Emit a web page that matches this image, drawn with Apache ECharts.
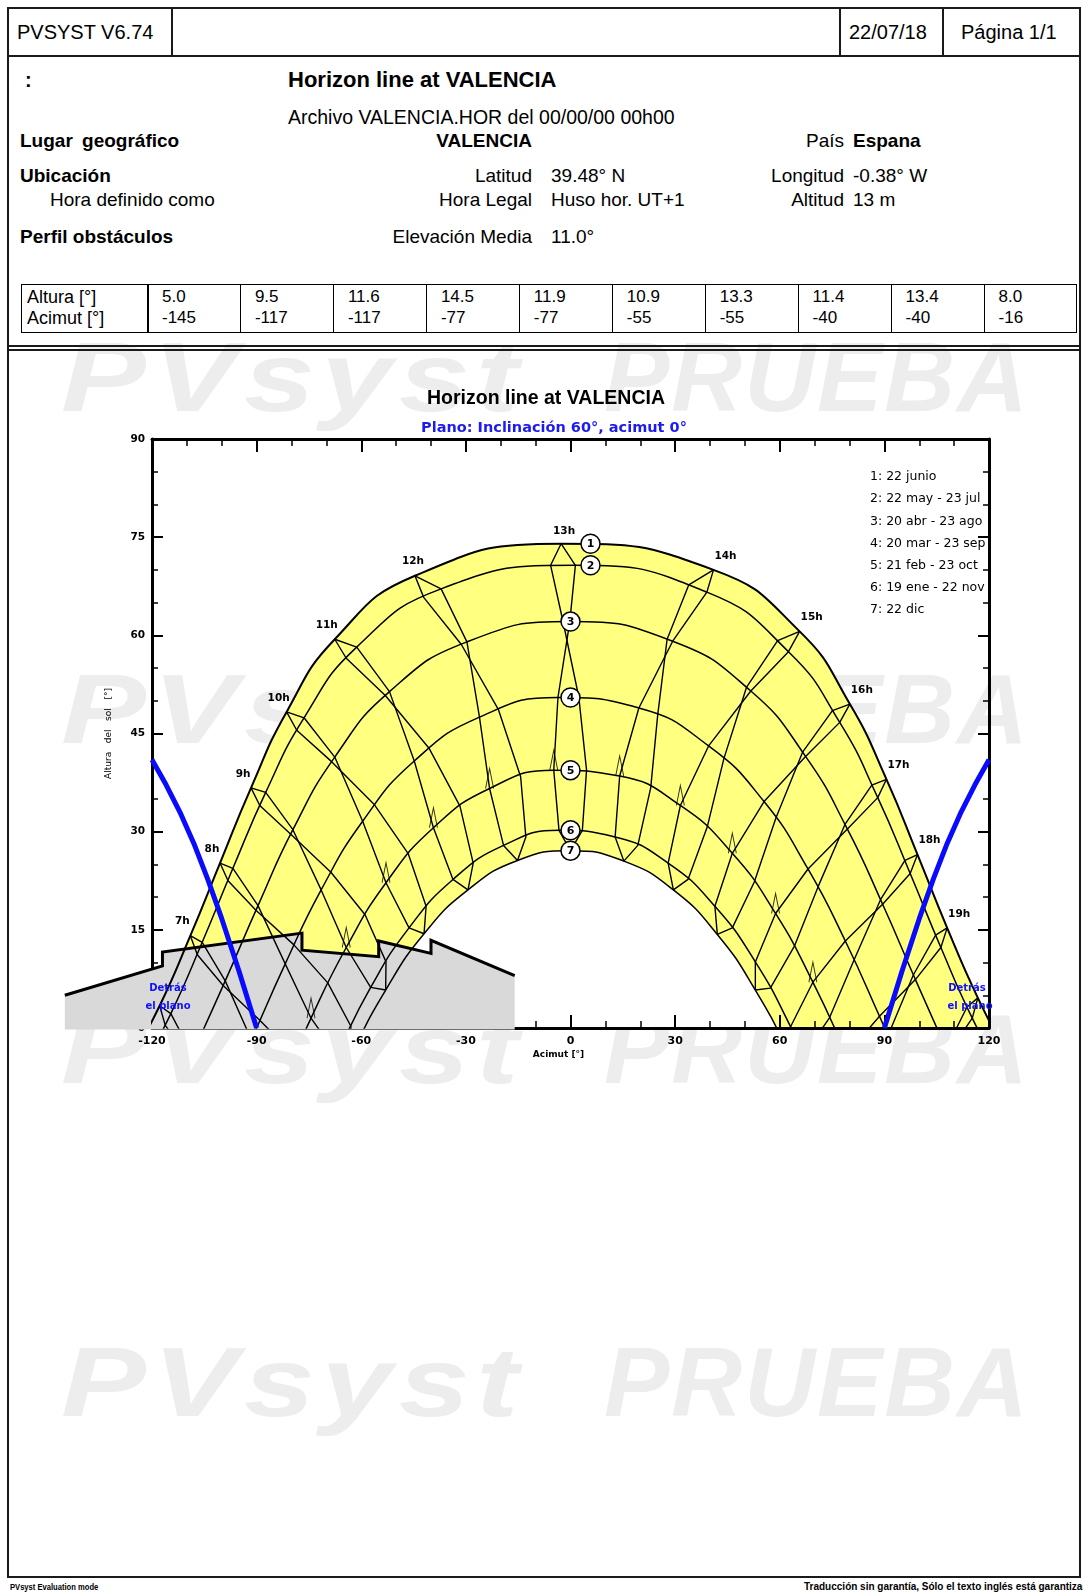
<!DOCTYPE html>
<html>
<head>
<meta charset="utf-8">
<title>Horizon line at VALENCIA</title>
<script src="https://cdn.jsdelivr.net/npm/echarts/dist/echarts.min.js"></script>
<style>
html, body { margin: 0; padding: 0; background: #fff; }
#page { position: relative; width: 1083px; height: 1596px; overflow: hidden;
        font-family: "Liberation Sans", Arial, sans-serif; color: #000; }
.wm { position: absolute; font: italic bold 98px "Liberation Sans", Arial, sans-serif;
      color: #ededed; white-space: nowrap; line-height: 1; transform-origin: 0 0; }
.wm1 { left: 61px; letter-spacing: 5px; transform: scaleX(1.3); }
.wm2 { left: 604px; letter-spacing: 2px; }
.t { position: absolute; white-space: nowrap; line-height: 1.15; transform: translateY(-50%); font-size: 19px; }
.r { transform: translate(-100%, -50%); }
.b { font-weight: bold; }
.ft { font-size: 9.5px; font-weight: bold; transform: translateY(-50%) scaleX(0.8); transform-origin: 0 50%; }
.ft2 { font-size: 10px; font-weight: bold; }
.box { position: absolute; border: 2px solid #1a1a1a; box-sizing: border-box; }
.vl { position: absolute; background: #1a1a1a; }
.hl { position: absolute; background: #1a1a1a; }
#chart { position: absolute; left: 0; top: 0; width: 1083px; height: 1596px; }
</style>
</head>
<body>
<div id="page">
  <!-- watermark rows -->
  <div class="wm wm1" style="top:328px">PVsyst</div>
  <div class="wm wm2" style="top:328px">PRUEBA</div>
  <div class="wm wm1" style="top:660px">PVsyst</div>
  <div class="wm wm2" style="top:660px">PRUEBA</div>
  <div class="wm wm1" style="top:1000px">PVsyst</div>
  <div class="wm wm2" style="top:1000px">PRUEBA</div>
  <div class="wm wm1" style="top:1333px">PVsyst</div>
  <div class="wm wm2" style="top:1333px">PRUEBA</div>

  <!-- page header -->
  <div class="box" style="left:7px;top:7px;width:1074px;height:50px"></div>
  <div class="vl" style="left:171px;top:7px;width:2px;height:50px"></div>
  <div class="vl" style="left:839px;top:7px;width:2px;height:50px"></div>
  <div class="vl" style="left:942px;top:7px;width:2px;height:50px"></div>
  <div class="t" style="left:17px;top:32px;font-size:20px">PVSYST V6.74</div>
  <div class="t" style="left:849px;top:32px;font-size:20px">22/07/18</div>
  <div class="t" style="left:961px;top:32px;font-size:20px">Página 1/1</div>

  <!-- body frame -->
  <div class="box" style="left:7px;top:55px;width:1074px;height:1523px"></div>

  <div class="t b" style="left:25px;top:80px;font-size:20px">:</div>
  <div class="t b" style="left:288px;top:80px;font-size:22px">Horizon line at VALENCIA</div>
  <div class="t" style="left:288px;top:117px;font-size:19.5px">Archivo VALENCIA.HOR del 00/00/00 00h00</div>

  <div class="t b" style="left:20px;top:141px;word-spacing:4px">Lugar geográfico</div>
  <div class="t b r" style="left:532px;top:141px">VALENCIA</div>
  <div class="t r" style="left:844px;top:141px">País</div>
  <div class="t b" style="left:853px;top:141px">Espana</div>

  <div class="t b" style="left:20px;top:176px">Ubicación</div>
  <div class="t r" style="left:532px;top:176px">Latitud</div>
  <div class="t" style="left:551px;top:176px">39.48° N</div>
  <div class="t r" style="left:844px;top:176px">Longitud</div>
  <div class="t" style="left:853px;top:176px">-0.38° W</div>

  <div class="t" style="left:50px;top:200px">Hora definido como</div>
  <div class="t r" style="left:532px;top:200px">Hora Legal</div>
  <div class="t" style="left:551px;top:200px">Huso hor. UT+1</div>
  <div class="t r" style="left:844px;top:200px">Altitud</div>
  <div class="t" style="left:853px;top:200px">13 m</div>

  <div class="t b" style="left:20px;top:237px">Perfil obstáculos</div>
  <div class="t r" style="left:532px;top:237px">Elevación Media</div>
  <div class="t" style="left:551px;top:237px">11.0°</div>

  <!-- horizon profile table (filled from the data arrays) -->
  <div id="table"></div>

  <!-- double separator -->
  <div class="hl" style="left:7px;top:345px;width:1074px;height:1.5px"></div>
  <div class="hl" style="left:7px;top:349px;width:1074px;height:1.5px"></div>

  <!-- footer -->
  <div class="t ft" style="left:10px;top:1587px">PVsyst Evaluation mode</div>
  <div class="t ft2" style="left:804px;top:1587px">Traducción sin garantía, Sólo el texto inglés está garantizado.</div>

  <div id="chart"></div>
</div>

<script>
// ---- horizon profile (table + grey mask) ----
const horizonAzimuth = [-145, -117, -117, -77, -77, -55, -55, -40, -40, -16];
const horizonHeight  = [5.0, 9.5, 11.6, 14.5, 11.9, 10.9, 13.3, 11.4, 13.4, 8.0];

// ---- sun positions [azimuth, height] at legal hours 5h..21h ----
const hours = [5, 6, 7, 8, 9, 10, 11, 12, 13, 14, 15, 16, 17, 18, 19, 20, 21];
const sunJun22 = [[-127.6,-6.3],[-117.8,3.4],[-109.0,14.1],[-100.5,25.2],[-91.6,36.7],[-81.4,48.3],[-67.6,59.4],[-44.6,69.1],[-2.7,74.0],[41.0,70.0],[65.7,60.6],[80.1,49.5],[90.6,38.0],[99.5,26.5],[108.0,15.3],[116.8,4.6],[126.4,-5.3]];
const sunMay22 = [[-124.5,-7.9],[-114.6,2.2],[-105.6,13.1],[-96.8,24.4],[-87.4,36.0],[-76.4,47.4],[-61.3,58.2],[-37.1,67.1],[1.4,70.7],[39.1,66.6],[62.5,57.5],[77.2,46.7],[88.1,35.2],[97.4,23.6],[106.2,12.3],[115.2,1.5],[125.2,-8.5]];
const sunJul23 = [[-126.2,-9.5],[-116.2,0.4],[-107.0,11.2],[-98.2,22.5],[-89.1,34.0],[-78.5,45.5],[-64.3,56.5],[-42.1,65.8],[-5.7,70.7],[33.9,67.7],[59.4,59.2],[75.1,48.5],[86.4,37.1],[95.9,25.6],[104.7,14.2],[113.7,3.2],[123.4,-6.9]];
const sunApr20 = [null,[-108.5,-4.0],[-99.0,7.2],[-89.6,18.7],[-79.6,30.3],[-67.6,41.4],[-51.9,51.4],[-29.7,59.0],[-0.2,62.1],[29.3,59.1],[51.7,51.5],[67.4,41.5],[79.4,30.4],[89.5,18.9],[98.9,7.4],[108.3,-3.9],null];
const sunAug23 = [null,[-109.1,-4.7],[-99.6,6.5],[-90.2,18.0],[-80.2,29.6],[-68.5,40.7],[-53.1,50.8],[-31.3,58.6],[-2.1,62.0],[27.7,59.4],[50.5,52.1],[66.6,42.2],[78.7,31.1],[88.9,19.6],[98.3,8.1],[107.7,-3.2],null];
const sunMar20 = [null,[-101.2,-13.3],[-91.5,-1.8],[-81.8,9.8],[-71.5,21.1],[-59.6,31.6],[-44.8,40.8],[-26.1,47.5],[-3.6,50.5],[19.6,48.9],[39.6,43.1],[55.5,34.6],[68.1,24.3],[78.8,13.3],[88.6,1.8],[98.2,-9.8],null];
const sunSep23 = [null,[-98.7,-10.4],[-89.1,1.2],[-79.3,12.7],[-68.7,23.8],[-56.2,34.1],[-40.5,42.7],[-20.7,48.7],[2.4,50.5],[25.0,47.8],[44.0,41.2],[58.9,32.1],[71.0,21.6],[81.3,10.4],[91.0,-1.2],[100.7,-12.7],null];
const sunFeb21 = [null,null,[-83.8,-9.9],[-74.4,1.5],[-64.3,12.3],[-52.9,22.2],[-39.3,30.6],[-23.2,36.6],[-4.8,39.4],[14.1,38.5],[31.5,34.0],[46.4,26.7],[58.8,17.5],[69.5,7.0],[79.1,-4.1],null,null];
const sunOct23 = [null,null,[-79.2,-4.2],[-69.6,6.9],[-58.9,17.3],[-46.5,26.6],[-31.7,33.9],[-14.3,38.4],[4.6,39.4],[23.0,36.7],[39.2,30.7],[52.7,22.3],[64.2,12.5],[74.3,1.6],[83.7,-9.7],null,null];
const sunJan19 = [null,null,[-75.9,-15.0],[-66.9,-4.1],[-57.3,6.2],[-46.3,15.3],[-33.7,22.7],[-19.2,27.9],[-3.3,30.2],[12.8,29.2],[28.0,25.2],[41.4,18.6],[53.0,10.1],[63.1,0.2],[72.3,-10.5],null,null];
const sunNov22 = [null,null,[-72.2,-10.4],[-63.0,0.3],[-52.9,10.1],[-41.4,18.6],[-27.9,25.2],[-12.8,29.2],[3.4,30.2],[19.3,27.9],[33.7,22.7],[46.4,15.3],[57.3,6.1],[67.0,-4.1],[75.9,-15.1],null,null];
const sunDec22 = [null,null,[-71.5,-14.6],[-62.7,-4.0],[-53.0,5.8],[-42.0,14.4],[-29.4,21.1],[-15.2,25.6],[0.0,27.1],[15.3,25.5],[29.5,21.1],[42.1,14.3],[53.0,5.8],[62.7,-4.0],[71.5,-14.7],null,null];

const dateLabels = ['1: 22 junio', '2: 22 may - 23 jul', '3: 20 abr - 23 ago', '4: 20 mar - 23 sep',
                    '5: 21 feb - 23 oct', '6: 19 ene - 22 nov', '7: 22 dic'];

// limit of the tilted plane (sun behind the collector plane)
const planeLeft  = [[-120,41.0],[-116,37.2],[-112,33.0],[-108,28.2],[-104,22.7],[-100,16.7],[-95,8.6],[-90,0]];
const planeRight = [[90,0],[95,8.6],[100,16.7],[104,22.7],[108,28.2],[112,33.0],[116,37.2],[120,41.0]];

// ---- table ----
(function buildTable() {
  const host = document.getElementById('table');
  let html = '<div class="box" style="left:21px;top:284px;width:1056px;height:49px;border-width:1.5px;border-color:#000"></div>';
  html += '<div class="vl" style="left:147px;top:284px;width:1.5px;height:49px;background:#000"></div>';
  const colW = 92.95;
  for (let k = 1; k < horizonAzimuth.length; k++) {
    html += '<div class="vl" style="left:' + (147 + k * colW).toFixed(1) + 'px;top:284px;width:1.5px;height:49px;background:#000"></div>';
  }
  html += '<div class="t" style="left:27px;top:297px;font-size:18px">Altura [°]</div>';
  html += '<div class="t" style="left:27px;top:318px;font-size:18px">Acimut [°]</div>';
  for (let k = 0; k < horizonAzimuth.length; k++) {
    const x = 147 + k * colW + 15;
    html += '<div class="t" style="left:' + x.toFixed(1) + 'px;top:297px;font-size:17px">' + horizonHeight[k].toFixed(1) + '</div>';
    html += '<div class="t" style="left:' + x.toFixed(1) + 'px;top:318px;font-size:17px">' + horizonAzimuth[k] + '</div>';
  }
  host.innerHTML = html;
})();

// ---- chart ----
const FONT = '"DejaVu Sans", "Liberation Sans", sans-serif';
const clean = arr => arr.filter(p => p);
const dateCurves = [sunJun22, sunMay22, sunApr20, sunMar20, sunFeb21, sunJan19, sunDec22];
const branchA = [sunDec22, sunJan19, sunFeb21, sunMar20, sunApr20, sunMay22, sunJun22];
const branchB = [sunJun22, sunJul23, sunAug23, sunSep23, sunOct23, sunNov22, sunDec22];

const series = [];
const base = { type: 'line', symbol: 'none', showSymbol: false, silent: true, animation: false,
               emphasis: { disabled: true } };

// yellow band between the summer and winter solstice paths
series.push(Object.assign({}, base, {
  data: clean(sunJun22), smooth: 0.5, z: 1,
  lineStyle: { width: 0, opacity: 0 }, areaStyle: { color: '#ffff80', opacity: 1 }
}));
series.push(Object.assign({}, base, {
  data: clean(sunDec22), smooth: 0.5, z: 1,
  lineStyle: { width: 0, opacity: 0 }, areaStyle: { color: '#ffffff', opacity: 1 }
}));

// grey far-horizon mask and its outline (drawn past the left frame, as in the profile)
const horizonPts = horizonAzimuth.map((a, i) => [a, horizonHeight[i]]);
series.push({
  type: 'custom', coordinateSystem: 'cartesian2d', silent: true, z: 4, clip: false, animation: false,
  data: [horizonPts[0]],
  renderItem: function (params, api) {
    const pts = horizonPts.map(p => api.coord(p));
    const y0 = api.coord([0, 0])[1] + 1.6;
    const poly = pts.concat([[pts[pts.length - 1][0], y0], [pts[0][0], y0]]);
    return { type: 'polygon', shape: { points: poly }, style: { fill: '#d9d9d9' } };
  }
});
series.push({
  type: 'custom', coordinateSystem: 'cartesian2d', silent: true, z: 6, clip: false, animation: false,
  data: [horizonPts[0]],
  renderItem: function (params, api) {
    const pts = horizonPts.map(p => api.coord(p));
    return { type: 'polyline', shape: { points: pts },
             style: { stroke: '#000', lineWidth: 3, fill: null, lineJoin: 'miter' } };
  }
});

// date paths
dateCurves.forEach((c, k) => {
  series.push(Object.assign({}, base, {
    data: clean(c), smooth: 0.5, z: 5,
    lineStyle: { color: '#000', width: k === 0 ? 2 : 1.5 }
  }));
});

// hour lines (two half-year branches)
for (let j = 1; j < hours.length - 1; j++) {
  [branchA, branchB].forEach(br => {
    const pts = br.map(d => d[j]).filter(p => p);
    series.push(Object.assign({}, base, {
      data: pts, z: 5, lineStyle: { color: '#000', width: 1.4 }
    }));
  });
}

// turning marks of the hour lines on the February path
series.push({
  type: 'scatter', silent: true, z: 6, animation: false,
  data: clean(sunFeb21).filter(p => p[1] > 0),
  symbol: 'path://M0,20L4,0L8,20', symbolSize: [8, 20], symbolOffset: [0, -10],
  itemStyle: { color: 'rgba(0,0,0,0)', borderColor: '#000', borderWidth: 1.4 }
});

// plane limit
[planeLeft, planeRight].forEach(p => {
  series.push(Object.assign({}, base, {
    data: p, z: 7, lineStyle: { color: '#0a0aff', width: 5 }
  }));
});

// hour labels on the June path
const labelIdx = [];
for (let j = 0; j < hours.length; j++) if (hours[j] >= 7 && hours[j] <= 19) labelIdx.push(j);
series.push({
  type: 'custom', coordinateSystem: 'cartesian2d', silent: true, z: 8, clip: false, animation: false,
  data: labelIdx.map(j => [sunJun22[j][0], sunJun22[j][1], hours[j]]),
  renderItem: function (params, api) {
    const p = api.coord([api.value(0), api.value(1)]);
    const h = api.value(2);
    const off = h <= 11 ? [-8, -14] : (h === 12 ? [-2, -15] : (h === 13 ? [3, -12] : [12, -14]));
    return { type: 'text', x: p[0] + off[0], y: p[1] + off[1],
             style: { text: h + 'h', fill: '#000', font: 'bold 10.5px ' + FONT, align: 'center', verticalAlign: 'middle' } };
  }
});

// numbered markers of the date paths
series.push({
  type: 'custom', coordinateSystem: 'cartesian2d', silent: true, z: 9, clip: false, animation: false,
  data: dateCurves.map((c, k) => [0, c[8][1], k + 1]),
  renderItem: function (params, api) {
    const p = api.coord([api.value(0), api.value(1)]);
    const k = api.value(2);
    const cx = p[0] + (k <= 2 ? 20 : 0);
    return { type: 'group', children: [
      { type: 'circle', shape: { cx: cx, cy: p[1], r: 9.5 },
        style: { fill: '#fff', stroke: '#000', lineWidth: 1.5 } },
      { type: 'text', x: cx, y: p[1] + 0.5,
        style: { text: String(k), fill: '#000', font: 'bold 11px ' + FONT, align: 'center', verticalAlign: 'middle' } }
    ] };
  }
});

// date legend inside the plot (cut by the frame)
series.push({
  type: 'custom', coordinateSystem: 'cartesian2d', silent: true, z: 8, clip: true, animation: false,
  data: dateLabels.map((t, i) => [i, 0]),
  renderItem: function (params, api) {
    const cs = params.coordSys;
    const i = api.value(0);
    return { type: 'text', x: cs.x + cs.width - 119, y: cs.y + 38 + i * 22.2,
             style: { text: dateLabels[i], fill: '#000', font: '12.5px ' + FONT, verticalAlign: 'middle' } };
  }
});

const axisBase = {
  type: 'value', z: 3,
  axisLine: { show: true, onZero: false, lineStyle: { color: '#000', width: 3 } },
  splitLine: { show: false }
};
const xTicks = {
  min: -120, max: 120, interval: 30,
  axisTick: { show: true, inside: true, length: 13, lineStyle: { color: '#000', width: 2 } },
  minorTick: { show: true, splitNumber: 3, length: 7, lineStyle: { color: '#000', width: 1.5 } }
};
const yTicks = {
  min: 0, max: 90, interval: 15,
  axisTick: { show: true, inside: true, length: 11, lineStyle: { color: '#000', width: 2 } },
  minorTick: { show: true, splitNumber: 3, length: 6, lineStyle: { color: '#000', width: 1.5 } }
};

const option = {
  animation: false,
  backgroundColor: 'transparent',
  title: [
    { text: 'Horizon line at VALENCIA', left: 546, top: 389, textAlign: 'center', padding: 0,
      textStyle: { fontFamily: '"Liberation Sans", Arial, sans-serif', fontWeight: 'bold', fontSize: 19.5, color: '#000' } },
    { text: 'Plano: Inclinación 60°, acimut 0°', left: 554, top: 421, textAlign: 'center', padding: 0,
      textStyle: { fontFamily: FONT, fontWeight: 'bold', fontSize: 14.5, color: '#1c1cf0' } }
  ],
  grid: { left: 152, top: 439, width: 837, height: 589, containLabel: false, outerBoundsMode: 'none' },
  xAxis: [
    Object.assign({}, axisBase, xTicks, {
      position: 'bottom',
      axisLabel: { show: true, margin: 8, color: '#000', fontFamily: FONT, fontWeight: 'bold', fontSize: 11 },
      name: 'Acimut [°]', nameLocation: 'middle', nameGap: 22,
      nameTextStyle: { fontFamily: FONT, fontWeight: 'bold', fontSize: 9, color: '#000', padding: [0, 24, 0, 0] }
    }),
    Object.assign({}, axisBase, xTicks, { position: 'top', axisLabel: { show: false } })
  ],
  yAxis: [
    Object.assign({}, axisBase, yTicks, {
      position: 'left',
      axisLabel: { show: true, margin: 7, color: '#000', fontFamily: FONT, fontWeight: 'bold', fontSize: 10.5 },
      name: 'Altura   del   sol   [°]', nameLocation: 'middle', nameGap: 39, nameRotate: 90,
      nameTextStyle: { fontFamily: FONT, fontSize: 9, color: '#000' }
    }),
    Object.assign({}, axisBase, yTicks, { position: 'right', axisLabel: { show: false } })
  ],
  graphic: [
    { type: 'text', x: 168, y: 988, z: 100, silent: true,
      style: { text: 'Detrás', fill: '#1010ff', font: 'bold 10px ' + FONT, align: 'center', verticalAlign: 'middle' } },
    { type: 'text', x: 168, y: 1006, z: 100, silent: true,
      style: { text: 'el plano', fill: '#1010ff', font: 'bold 10px ' + FONT, align: 'center', verticalAlign: 'middle' } },
    { type: 'text', x: 967, y: 988, z: 100, silent: true,
      style: { text: 'Detrás', fill: '#1010ff', font: 'bold 10px ' + FONT, align: 'center', verticalAlign: 'middle' } },
    { type: 'text', x: 970, y: 1006, z: 100, silent: true,
      style: { text: 'el plano', fill: '#1010ff', font: 'bold 10px ' + FONT, align: 'center', verticalAlign: 'middle' } }
  ],
  series: series
};

const chart = echarts.init(document.getElementById('chart'), null, { renderer: 'canvas', width: 1083, height: 1596 });
chart.setOption(option);
</script>
</body>
</html>
